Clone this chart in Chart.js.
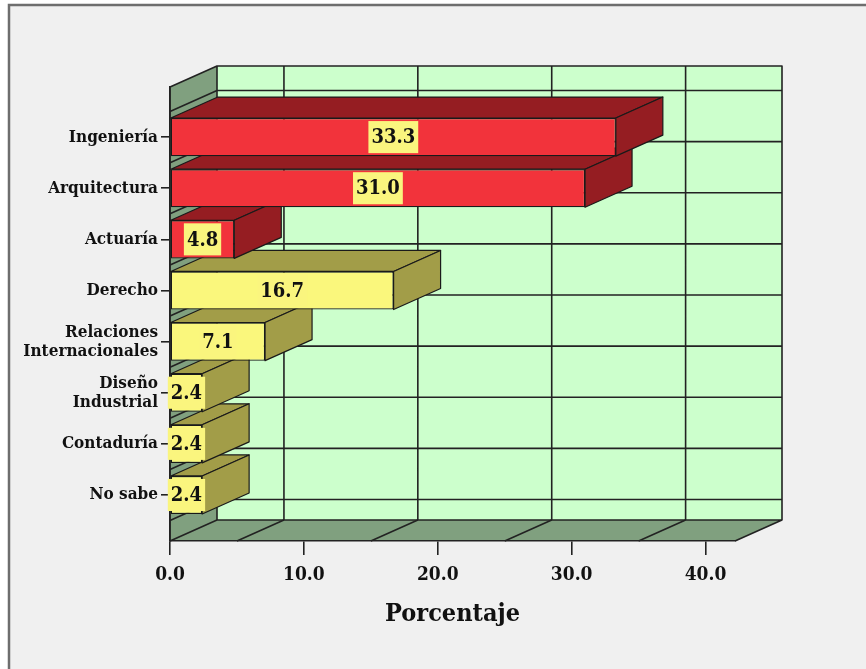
<!DOCTYPE html>
<html>
<head>
<meta charset="utf-8">
<script src="https://cdn.jsdelivr.net/npm/chart.js@4.4.1/dist/chart.umd.min.js"></script>
<style>
  html, body { margin: 0; padding: 0; background: #ffffff; }
  #wrap { width: 866px; height: 669px; }
</style>
</head>
<body>
<div id="wrap"><canvas id="c" width="866" height="669"></canvas></div>
<script>
// Carrera que piensan estudiar (porcentaje)
const categories = [
  'Ingeniería',
  'Arquitectura',
  'Actuaría',
  'Derecho',
  ['Relaciones', 'Internacionales'],
  ['Diseño', 'Industrial'],
  'Contaduría',
  'No sabe'
];
const percentages = [33.3, 31.0, 4.8, 16.7, 7.1, 2.4, 2.4, 2.4];
// bar group: 'a' = red group, 'b' = yellow group
const groups = ['a', 'a', 'a', 'b', 'b', 'b', 'b', 'b'];
const xTicks = [0, 10, 20, 30, 40];
const wallGridValues = [5, 15, 25, 35];

const FRONT = { a: '#f2333b', b: '#faf77c' };
const SIDE = { a: '#951d22', b: '#a29d48' };
const LABEL_BG = '#faf57e';
const WALL_BACK = '#ccffcc';
const WALL_SIDE = '#80a07f';
const LINE = '#222222';
const DEPTH = { dx: 47, dy: -21 };
const SERIF = "'DejaVu Serif Condensed', 'DejaVu Serif', serif";

const points = percentages.map((v, i) => ({ x: v, y: i }));

// frame, back wall, left wall, floor and the wall grid
const walls3d = {
  id: 'walls3d',
  beforeDraw(chart) {
    const { ctx, chartArea: ca, scales } = chart;
    const { dx, dy } = DEPTH;
    ctx.save();
    ctx.fillStyle = '#ffffff';
    ctx.fillRect(0, 0, chart.width, chart.height);
    ctx.fillStyle = '#f0f0f0';
    ctx.fillRect(8, 4, chart.width, chart.height);
    ctx.strokeStyle = '#6e6e6e';
    ctx.lineWidth = 2.5;
    ctx.beginPath();
    ctx.moveTo(9, chart.height + 2);
    ctx.lineTo(9, 5);
    ctx.lineTo(chart.width + 2, 5);
    ctx.stroke();

    const x0 = ca.left, x1 = ca.right, yT = ca.top, yB = ca.bottom;
    ctx.lineWidth = 1.6;
    ctx.strokeStyle = LINE;
    ctx.lineJoin = 'round';

    // back wall
    ctx.fillStyle = WALL_BACK;
    ctx.fillRect(x0 + dx, yT + dy, x1 - x0, yB - yT);

    // left wall
    ctx.fillStyle = WALL_SIDE;
    ctx.beginPath();
    ctx.moveTo(x0, yT); ctx.lineTo(x0 + dx, yT + dy);
    ctx.lineTo(x0 + dx, yB + dy); ctx.lineTo(x0, yB);
    ctx.closePath(); ctx.fill();

    // floor
    ctx.beginPath();
    ctx.moveTo(x0, yB); ctx.lineTo(x1, yB);
    ctx.lineTo(x1 + dx, yB + dy); ctx.lineTo(x0 + dx, yB + dy);
    ctx.closePath(); ctx.fill();

    // vertical grid on back wall + diagonals on floor
    const xs = scales.x;
    ctx.beginPath();
    wallGridValues.forEach(v => {
      const px = xs.getPixelForValue(v);
      ctx.moveTo(px + dx, yT + dy); ctx.lineTo(px + dx, yB + dy);
      ctx.moveTo(px, yB); ctx.lineTo(px + dx, yB + dy);
    });
    // horizontal grid between categories on back wall + diagonals on left wall
    const ys = scales.y;
    for (let i = -1; i < categories.length; i++) {
      const py = ys.getPixelForValue(i + 0.5);
      ctx.moveTo(x0 + dx, py + dy); ctx.lineTo(x1 + dx, py + dy);
      ctx.moveTo(x0, py); ctx.lineTo(x0 + dx, py + dy);
    }
    ctx.stroke();

    // wall outlines
    ctx.beginPath();
    ctx.rect(x0 + dx, yT + dy, x1 - x0, yB - yT);
    ctx.moveTo(x0, yB); ctx.lineTo(x0, yT); ctx.lineTo(x0 + dx, yT + dy);
    ctx.moveTo(x0, yB); ctx.lineTo(x0 + dx, yB + dy);
    ctx.moveTo(x1, yB); ctx.lineTo(x1 + dx, yB + dy);
    ctx.stroke();
    ctx.restore();
  },
  // top and right faces of each bar, lowest bar first
  beforeDatasetsDraw(chart) {
    const { ctx } = chart;
    const { dx, dy } = DEPTH;
    const meta = chart.getDatasetMeta(0);
    ctx.save();
    ctx.strokeStyle = '#1a1a1a';
    ctx.lineWidth = 1.2;
    ctx.lineJoin = 'round';
    for (let i = meta.data.length - 1; i >= 0; i--) {
      const bar = meta.data[i];
      const { x, y, base, height } = bar.getProps(['x', 'y', 'base', 'height'], true);
      const top = y - height / 2, bottom = y + height / 2;
      ctx.fillStyle = SIDE[groups[i]];
      ctx.beginPath();
      ctx.moveTo(base, top); ctx.lineTo(x, top);
      ctx.lineTo(x + dx, top + dy); ctx.lineTo(base + dx, top + dy);
      ctx.closePath(); ctx.fill(); ctx.stroke();
      ctx.beginPath();
      ctx.moveTo(x, top); ctx.lineTo(x + dx, top + dy);
      ctx.lineTo(x + dx, bottom + dy); ctx.lineTo(x, bottom);
      ctx.closePath(); ctx.fill(); ctx.stroke();
    }
    ctx.restore();
  },
  // value labels on the front face
  afterDatasetsDraw(chart) {
    const { ctx } = chart;
    const meta = chart.getDatasetMeta(0);
    ctx.save();
    ctx.font = 'bold 20px ' + SERIF;
    ctx.textAlign = 'center';
    ctx.textBaseline = 'middle';
    meta.data.forEach((bar, i) => {
      const { x, y, base, height } = bar.getProps(['x', 'y', 'base', 'height'], true);
      const txt = percentages[i].toFixed(1);
      const w = ctx.measureText(txt).width + 6;
      const cx = (x + base) / 2;
      const h = height - 6;
      ctx.fillStyle = LABEL_BG;
      ctx.fillRect(cx - w / 2, y - h / 2, w, h);
      ctx.fillStyle = '#111111';
      ctx.fillText(txt, cx, y + 1);
    });
    ctx.restore();
  }
};

new Chart(document.getElementById('c'), {
  type: 'bar',
  data: {
    datasets: [{
      data: points,
      backgroundColor: groups.map(g => FRONT[g]),
      borderColor: '#1a1a1a',
      borderWidth: 1.2,
      borderSkipped: false,
      categoryPercentage: 1,
      barPercentage: 0.745
    }]
  },
  options: {
    indexAxis: 'y',
    responsive: false,
    animation: false,
    events: [],
    layout: { padding: { top: 87, right: 131, left: 0, bottom: 0 } },
    plugins: { legend: { display: false }, tooltip: { enabled: false } },
    scales: {
      x: {
        type: 'linear',
        min: 0,
        max: 42.2,
        offset: false,
        afterBuildTicks: s => { s.ticks = xTicks.map(v => ({ value: v })); },
        ticks: {
          callback: v => Number(v).toFixed(1),
          font: { family: SERIF, size: 19, weight: 'bold' },
          color: '#111111',
          padding: 9
        },
        grid: { drawOnChartArea: false, offset: false, tickLength: 14, color: LINE, lineWidth: 1.6 },
        border: { display: true, color: LINE, width: 1.6 },
        title: {
          display: true,
          text: 'Porcentaje',
          color: '#111111',
          font: { family: SERIF, size: 25, weight: 'bold' },
          padding: { top: 0, bottom: 40 }
        },
        afterFit: s => { s.height = 128; }
      },
      y: {
        type: 'linear',
        reverse: true,
        min: -0.98,
        max: 7.9,
        offset: false,
        afterBuildTicks: s => { s.ticks = categories.map((c, i) => ({ value: i })); },
        ticks: {
          autoSkip: false,
          callback: v => categories[v],
          font: { family: SERIF, size: 17, weight: 'bold', lineHeight: 1.12 },
          color: '#111111',
          padding: 3
        },
        grid: { drawOnChartArea: false, offset: false, tickLength: 9, color: LINE, lineWidth: 1.6 },
        border: { display: true, color: LINE, width: 1.6 },
        afterFit: s => { s.width = 170; }
      }
    }
  },
  plugins: [walls3d]
});
</script>
</body>
</html>
